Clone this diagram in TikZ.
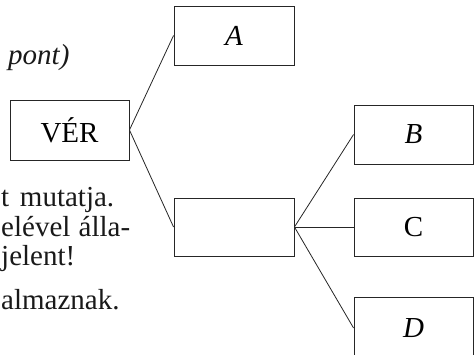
\documentclass[tikz,border=0pt]{standalone}
\usepackage{fontspec}
\setmainfont{Liberation Serif}
\begin{document}
\begin{tikzpicture}[x=1pt,y=-1pt,
  box/.style={draw=black!85, line width=0.9pt, minimum width=120pt, minimum height=59pt, inner sep=0pt},
  conn/.style={draw=black!85, line width=0.8pt},
  txt/.style={inner sep=0pt, text=black!90},
  font=\fontsize{29}{31}\selectfont]
\useasboundingbox (0,0) rectangle (474,355);
\clip (0,0) rectangle (474,355);
% boxes
\node[box, minimum width=119pt, minimum height=60pt] (ver) at (69.5,130) {VÉR};
\node[box] (a) at (234,35.5) {\textit{A}};
\node[box, minimum height=58pt] (mid) at (234,227) {};
\node[box, minimum width=119pt] (b) at (413.5,134.5) {\textit{B}};
\node[box, minimum width=119pt, minimum height=58pt] (c) at (413.5,227) {C};
\node[box, minimum width=119pt, minimum height=62pt] (d) at (413.5,328) {\textit{D}};
% connectors
\draw[conn] (ver.east) -- (a.west);
\draw[conn] (ver.east) -- (mid.west);
\draw[conn] (mid.east) -- (b.west);
\draw[conn] (mid.east) -- (c.west);
\draw[conn] (mid.east) -- (d.west);
% text fragments
\node[txt, anchor=base west] (t0) at (8,65) {\textit{pont)}};
\node[txt, anchor=base west] (t1) at (1,207) {\makebox[113pt][s]{t mutatja.}};
\node[txt, anchor=base west] (t2) at (1,237) {\makebox[129pt][s]{elével álla-}};
\node[txt, anchor=base west] (t3) at (1,266) {jelent!};
\node[txt, anchor=base west] (t4) at (1,310) {almaznak.};
\end{tikzpicture}
\end{document}
